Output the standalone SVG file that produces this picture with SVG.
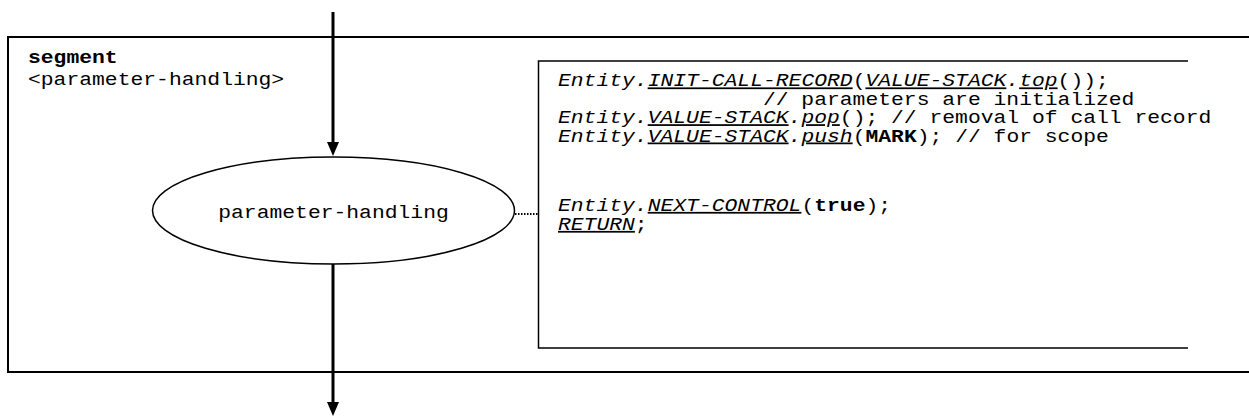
<svg xmlns="http://www.w3.org/2000/svg" width="1249" height="417" viewBox="0 0 1249 417">
<defs>
<style>
.frame{fill:none;stroke:#000;stroke-width:2}
.box{fill:none;stroke:#000;stroke-width:1.5}
.flow{fill:none;stroke:#000;stroke-width:3}
.dot{fill:none;stroke:#000;stroke-width:2;stroke-dasharray:1.5 1.5}
text{font-family:"Liberation Mono","Courier New",monospace;font-size:17.5px;fill:#000}
.b{font-weight:bold}
.i{font-style:italic}
.u{text-decoration:underline}
</style>
<marker id="arr" viewBox="0 0 14 12" refX="7" refY="6" markerWidth="14" markerHeight="12" markerUnits="userSpaceOnUse" orient="auto">
<path d="M0,0 L14,6 L0,12 Z" fill="#000"/>
</marker>
</defs>
<rect width="1249" height="417" fill="#fff"/>
<g id="segment-frame">
<path class="frame" d="M1249,37 H8 V372 H1249"/>
<g transform="translate(28 0) scale(1.22 1)">
<text x="0" y="63" class="b">segment</text>
<text x="0" y="85">&lt;parameter-handling&gt;</text>
</g>
</g>
<g id="code-box">
<path class="box" d="M1188,61 H538.5 V348 H1188"/>
<g transform="translate(558 0) scale(1.22 1)">
<text x="0" y="86.5"><tspan class="i">Entity.</tspan><tspan class="i u">INIT-CALL-RECORD</tspan>(<tspan class="i u">VALUE-STACK</tspan><tspan class="i">.</tspan><tspan class="i u">top</tspan>());</text>
<text x="0" y="105" xml:space="preserve">                // parameters are initialized</text>
<text x="0" y="123.3"><tspan class="i">Entity.</tspan><tspan class="i u">VALUE-STACK</tspan><tspan class="i">.</tspan><tspan class="i u">pop</tspan>(); // removal of call record</text>
<text x="0" y="141.6"><tspan class="i">Entity.</tspan><tspan class="i u">VALUE-STACK</tspan><tspan class="i">.</tspan><tspan class="i u">push</tspan>(<tspan class="b">MARK</tspan>); // for scope</text>
<text x="0" y="211"><tspan class="i">Entity.</tspan><tspan class="i u">NEXT-CONTROL</tspan>(<tspan class="b">true</tspan>);</text>
<text x="0" y="230"><tspan class="i u">RETURN</tspan>;</text>
</g>
</g>
<g id="parameter-handling">
<ellipse class="box" cx="333.5" cy="210.5" rx="181" ry="53.5"/>
<g transform="translate(333.5 218) scale(1.22 1)">
<text x="0" y="0" text-anchor="middle">parameter-handling</text>
</g>
</g>
<g id="connectors">
<line class="flow" x1="333" y1="12" x2="333" y2="149" marker-end="url(#arr)"/>
<line class="flow" x1="333" y1="264" x2="333" y2="409" marker-end="url(#arr)"/>
<line class="dot" x1="515" y1="214" x2="538" y2="214"/>
</g>
</svg>
